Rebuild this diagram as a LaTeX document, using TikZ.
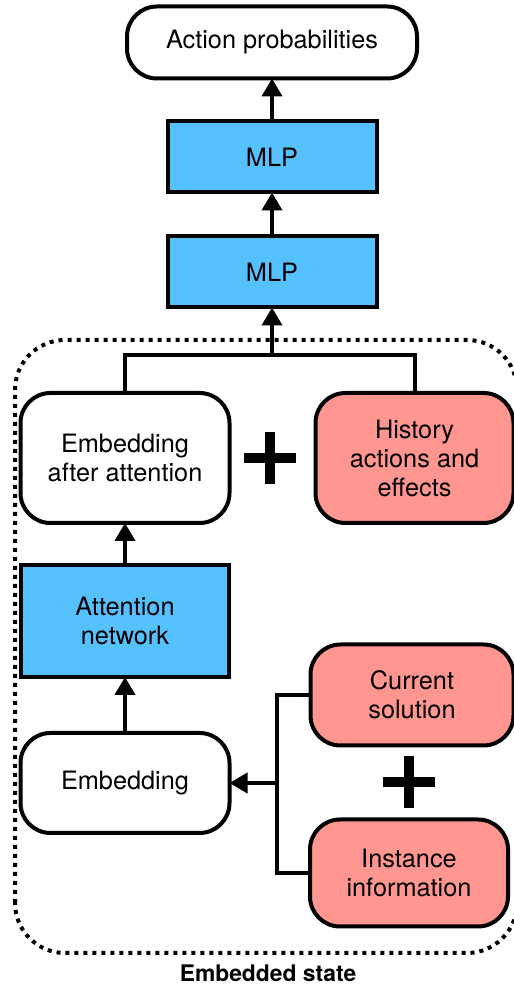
\documentclass[tikz,border=0pt]{standalone}
\usepackage{fontspec}
\setmainfont{TeX Gyre Heros}
\usepackage{tikz}
\usetikzlibrary{positioning}
\usetikzlibrary{arrows.meta}

\definecolor{netblue}{HTML}{56C1FF}
\definecolor{inred}{HTML}{FF968F}

\tikzset{
	box/.style={draw, line width=0.08cm, inner sep=0pt, outer sep=0pt, align=center,
		font=\fontsize{14.4}{16.5}\selectfont},
	net/.style={box, fill=netblue, minimum width=4.18cm},
	emb/.style={box, fill=white, rounded corners=0.6cm, minimum width=4.18cm},
	inp/.style={box, fill=inred, rounded corners=0.6cm},
	plussign/.style={minimum size=1.04cm, inner sep=0pt,
		path picture={\draw[line width=0.2cm]
			(path picture bounding box.north) -- (path picture bounding box.south)
			(path picture bounding box.west) -- (path picture bounding box.east);}},
	conn/.style={line width=0.08cm},
	arr/.style={conn, -{Triangle[length=0.36cm,width=0.4cm]}}
}

\begin{document}
\begin{tikzpicture}
		\useasboundingbox (0,0) rectangle (10.28,19.72);
		
		% embedded state frame
		\draw[line width=0.08cm, dash pattern=on 0.08cm off 0.1cm, rounded corners=1cm]
			(0.3,0.66) rectangle (10.34,12.92);
		\node[font=\fontsize{13}{15}\selectfont\bfseries] (state) at (5.36,0.26) {Embedded state};
		
		% left column
		\node[emb, minimum height=2cm] (embed) at (2.5,4.06) {Embedding};
		\node[net, minimum width=4.16cm, minimum height=2.24cm] (attn) [above = 1.12cm of embed] {Attention\\network};
		\node[emb, minimum height=2.6cm] (after) [above = 0.84cm of attn] {Embedding\\after attention};
		
		% right column
		\node[inp, minimum width=3.96cm, minimum height=2.6cm] (hist) [right = 1.72cm of after] {History\\actions and\\effects};
		\node[inp, minimum width=4.06cm, minimum height=2.02cm] (cur) at (8.24,5.82) {Current\\solution};
		\node[inp, minimum width=3.96cm, minimum height=2.14cm] (inst) at (8.18,2.26) {Instance\\information};
		\node[plussign] (plusA) at (5.4,10.56) {};
		\node[plussign] (plusB) at (8.18,4.08) {};
		
		% top column
		\node[net, minimum height=1.42cm] (mlpA) at (5.44,14.28) {MLP};
		\node[net, minimum height=1.42cm] (mlpB) [above = 0.88cm of mlpA] {MLP};
		\node[emb, minimum width=5.8cm, minimum height=1.44cm] (out) [above = 0.86cm of mlpB] {Action probabilities};
		
		\coordinate (fork) at (5.54,4.06);
		\coordinate (merge) at (5.44,12.62);
		
		\draw[conn] (cur.west) -| (fork |- inst.west) -- (inst.west);
		\draw[arr] (fork) -- (embed.east);
		\draw[arr] (embed) -- (attn);
		\draw[arr] (attn) -- (after);
		\draw[conn] (after.north) |- (merge) -| (hist.north);
		\draw[arr] (merge) -- (mlpA.south);
		\draw[arr] (mlpA) -- (mlpB);
		\draw[arr] (mlpB) -- (out);
	\end{tikzpicture}
\end{document}
